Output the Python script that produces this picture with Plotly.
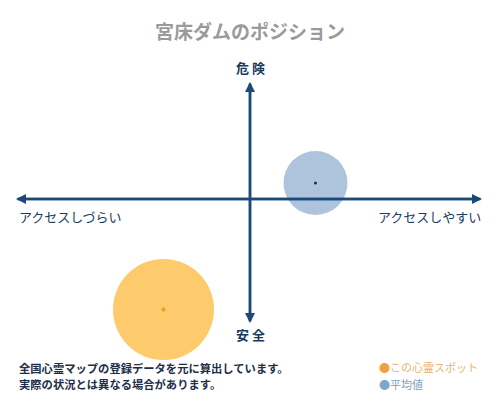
import plotly.graph_objects as go

# Data (positions in the chart's coordinate plane, centre = 0,0)
series_names = ["この心霊スポット", "平均値"]
x_vals = [-86.5, 65.5]
y_vals = [-109.5, 17.0]
bubble_sizes = [101, 64]
bubble_colors = ["rgba(253,199,100,0.95)", "rgba(160,185,214,0.85)"]
center_colors = ["#f0a020", "#1b2f4a"]
center_symbols = ["diamond", "circle"]

title_text = "宮床ダムのポジション"
top_label = "危 険"
bottom_label = "安 全"
left_label = "アクセスしづらい"
right_label = "アクセスしやすい"
note_lines = ["全国心霊マップの登録データを元に算出しています。", "実際の状況とは異なる場合があります。"]

FONT = "Noto Sans CJK JP"
NAVY = "#1b4a7a"

fig = go.Figure()
for i in range(len(series_names)):
    fig.add_trace(go.Scatter(
        x=[x_vals[i]], y=[y_vals[i]], mode="markers",
        marker=dict(size=bubble_sizes[i], color=bubble_colors[i], line=dict(width=0)),
        name=series_names[i], showlegend=False, hoverinfo="skip"))
for i in range(len(series_names)):
    fig.add_trace(go.Scatter(
        x=[x_vals[i]], y=[y_vals[i]], mode="markers",
        marker=dict(size=4 if i == 0 else 3, color=center_colors[i], symbol=center_symbols[i]),
        showlegend=False, hoverinfo="skip"))

ann = []
arrow_common = dict(xref="x", yref="y", axref="x", ayref="y", showarrow=True,
                    arrowhead=2, arrowsize=0.8, arrowwidth=2.5, arrowcolor=NAVY, text="")
ann.append(dict(x=0, y=118, ax=0, ay=-123, **arrow_common))
ann.append(dict(x=0, y=-123, ax=0, ay=118, **arrow_common))
ann.append(dict(x=-234, y=1, ax=232, ay=1, **arrow_common))
ann.append(dict(x=232, y=1, ax=-234, ay=1, **arrow_common))

def txt(x, y, s, size, color, xanchor="center", bold=False):
    return dict(x=x, y=y, xref="x", yref="y", text=(f"<b>{s}</b>" if bold else s),
                showarrow=False, xanchor=xanchor, yanchor="middle",
                font=dict(family=FONT, size=size, color=color))

ann.append(txt(0, 170, title_text, 19, "#9a9a9a", bold=True))
ann.append(txt(0, 133, top_label, 13, "#1b3a5c", bold=True))
ann.append(txt(0, -134, bottom_label, 13, "#1b3a5c", bold=True))
ann.append(txt(-233, -16, left_label, 13, "#1b3a5c", xanchor="left"))
ann.append(txt(233, -16, right_label, 13, "#1b3a5c", xanchor="right"))
ann.append(txt(-233, -168, note_lines[0], 11.3, "#1e2e48", xanchor="left", bold=True))
ann.append(txt(-233, -184, note_lines[1], 11.3, "#1e2e48", xanchor="left", bold=True))
ann.append(txt(127, -167, f"<span style='color:#f0a040'>●</span>{series_names[0]}", 11, "#eab46e", xanchor="left"))
ann.append(txt(127, -184, f"<span style='color:#7fa5c8'>●</span>{series_names[1]}", 11, "#7f9fbf", xanchor="left"))

# The page body adds an 8px margin, so the plot is 492x392 and the ranges are offset.
fig.update_layout(
    width=492, height=392, margin=dict(l=0, r=0, t=0, b=0),
    paper_bgcolor="white", plot_bgcolor="white",
    xaxis=dict(range=[-242, 250], visible=False, fixedrange=True),
    yaxis=dict(range=[-200, 192], visible=False, fixedrange=True),
    annotations=ann, showlegend=False)

fig.write_html("out.html")
